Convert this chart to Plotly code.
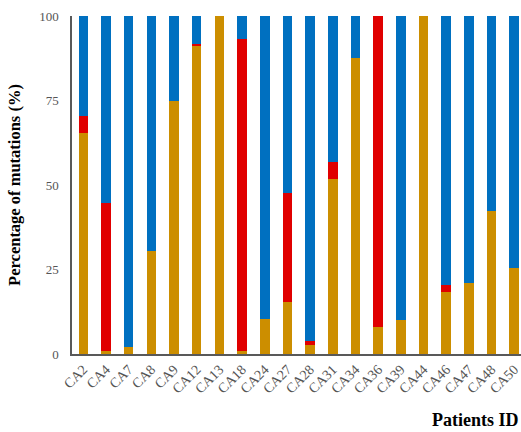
import plotly.graph_objects as go

patients = ["CA2","CA4","CA7","CA8","CA9","CA12","CA13","CA18","CA24","CA27",
            "CA28","CA31","CA34","CA36","CA39","CA44","CA46","CA47","CA48","CA50"]
gold_vals = [65.3, 1.0, 2.0, 30.5, 75.0, 91.0, 100.0, 1.0, 10.4, 15.3,
             2.7, 51.8, 87.5, 8.1, 10.0, 100.0, 18.2, 21.1, 42.4, 25.5]
red_vals = [5.2, 43.7, 0.0, 0.0, 0.0, 0.7, 0.0, 92.3, 0.0, 32.3,
            1.0, 5.0, 0.0, 91.9, 0.0, 0.0, 2.1, 0.0, 0.0, 0.0]
blue_vals = [round(100 - g - r, 2) for g, r in zip(gold_vals, red_vals)]

fig = go.Figure()
fig.add_bar(x=patients, y=gold_vals, marker_color="#CC8E00", marker_line_width=0, name="A")
fig.add_bar(x=patients, y=red_vals, marker_color="#E00000", marker_line_width=0, name="B")
fig.add_bar(x=patients, y=blue_vals, marker_color="#0070C0", marker_line_width=0, name="C")

font_family = "Liberation Serif, Times New Roman, serif"
fig.update_layout(
    barmode="stack",
    bargap=0.58,
    width=521, height=432,
    margin=dict(l=72, r=0, t=16, b=78),
    paper_bgcolor="white", plot_bgcolor="white",
    showlegend=False,
    font=dict(family=font_family, color="#595959", size=13),
    xaxis=dict(
        range=[-0.5, 19.3],
        tickangle=-45,
        showline=True, linecolor="#595959", linewidth=1.5,
        ticks="", showgrid=False,
        tickfont=dict(family=font_family, size=14, color="#555555"),
    ),
    yaxis=dict(
        range=[0, 100],
        tickvals=[0, 25, 50, 75, 100],
        showline=True, linecolor="#595959", linewidth=1.5,
        ticks="", showgrid=False, zeroline=False,
        ticklabelstandoff=9,
        tickfont=dict(family=font_family, size=13, color="#555555"),
        title=dict(text="<b>Percentage of mutations (%)</b>",
                   font=dict(family=font_family, size=16.5, color="black"),
                   standoff=14),
    ),
    annotations=[dict(
        text="<b>Patients ID</b>", xref="paper", yref="paper",
        x=1, y=-0.16, xanchor="right", yanchor="top", showarrow=False,
        font=dict(family=font_family, size=18, color="black"),
    )],
)

fig.write_html("out.html")
